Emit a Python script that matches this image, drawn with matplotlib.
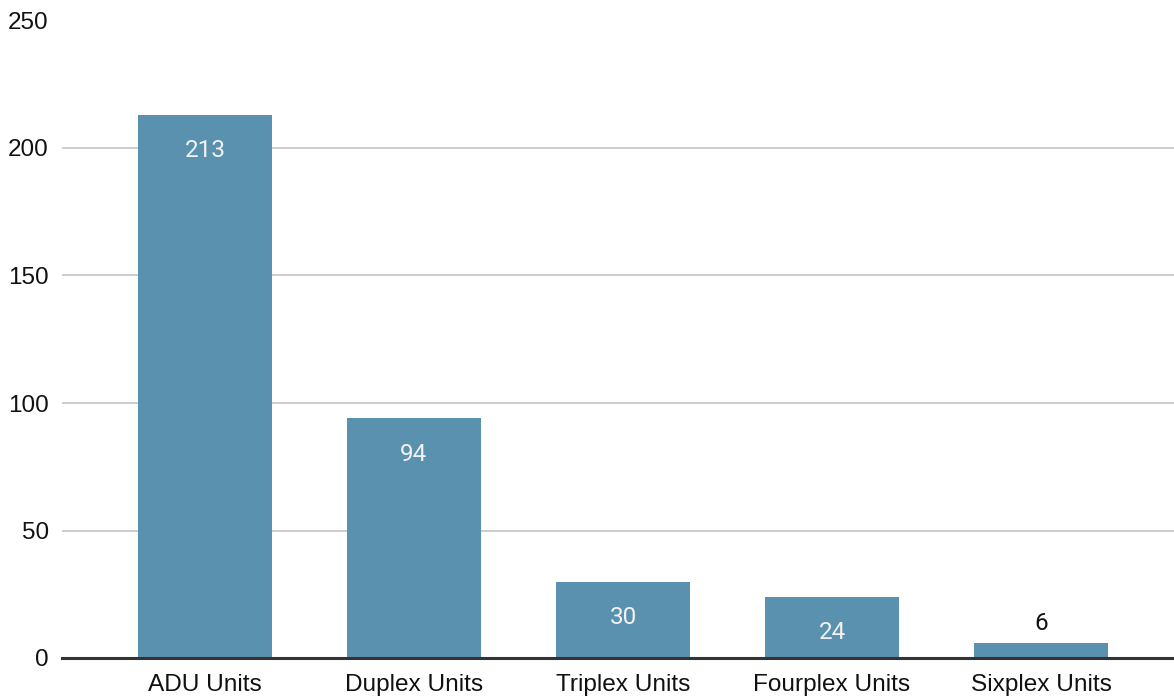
import matplotlib
matplotlib.use('Agg')
import matplotlib.pyplot as plt

categories = ['ADU Units', 'Duplex Units', 'Triplex Units', 'Fourplex Units', 'Sixplex Units']
units = [213, 94, 30, 24, 6]
y_ticks = [0, 50, 100, 150, 200, 250]

plt.rcParams['font.family'] = ['Liberation Sans', 'DejaVu Sans']

fig = plt.figure(figsize=(11.74, 7), dpi=100)
ax = fig.add_axes([62 / 1174, 42 / 700, 1 - 62 / 1174, (658 - 20.5) / 700])

x = range(len(categories))
bars = ax.bar(x, units, width=0.64, color='#5a91af', zorder=3)

ax.set_ylim(0, 250)
ax.set_xlim(-0.684, 4.636)
ax.set_yticks(y_ticks)
ax.set_xticks(list(x))
ax.set_xticklabels(categories)
ax.grid(axis='y', color='#cccccc', linewidth=1.4, zorder=0)
ax.axhline(0, color='#333333', linewidth=2.2, zorder=4, clip_on=False)

for s in ax.spines.values():
    s.set_visible(False)
ax.tick_params(axis='y', length=0, pad=9.5, labelsize=17.5, labelcolor='#111111')
ax.tick_params(axis='x', length=0, pad=11.5, labelsize=17.6, labelcolor='#111111')

for b, v in zip(bars, units):
    cx = b.get_x() + b.get_width() / 2
    if v > 15:
        ax.annotate(str(v), (cx, v), xytext=(0, -26), textcoords='offset points',
                    ha='center', va='center', color='#f2f2f2', fontsize=17.5,
                    family=['Roboto', 'DejaVu Sans'], zorder=5)
    else:
        ax.annotate(str(v), (cx, v), xytext=(0, 14), textcoords='offset points',
                    ha='center', va='center', color='#111111', fontsize=17.5,
                    family=['Roboto', 'DejaVu Sans'], zorder=5)

fig.savefig('out.png', dpi=100)
